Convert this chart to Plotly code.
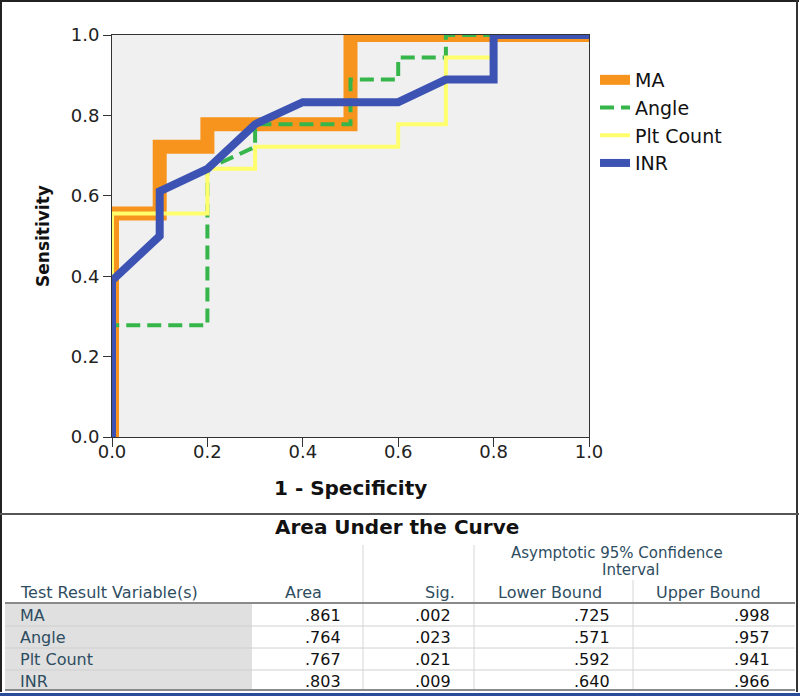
import plotly.graph_objects as go

# ---------------- data ----------------
series_names = ["MA", "Angle", "Plt Count", "INR"]

ma_fpr = [0, 0, 0.1, 0.1, 0.2, 0.2, 0.5, 0.5, 1.0]
ma_tpr = [0, 0.556, 0.556, 0.722, 0.722, 0.778, 0.778, 1.0, 1.0]

angle_fpr = [0, 0, 0.2, 0.2, 0.3, 0.3, 0.5, 0.5, 0.6, 0.6, 0.7, 0.7, 1.0]
angle_tpr = [0, 0.278, 0.278, 0.667, 0.722, 0.778, 0.778, 0.889, 0.889, 0.944, 0.944, 1.0, 1.0]

plt_fpr = [0, 0, 0.2, 0.2, 0.3, 0.3, 0.6, 0.6, 0.7, 0.7, 0.8, 0.8, 1.0]
plt_tpr = [0, 0.556, 0.556, 0.667, 0.667, 0.722, 0.722, 0.778, 0.778, 0.944, 0.944, 1.0, 1.0]

inr_fpr = [0, 0, 0.1, 0.1, 0.2, 0.3, 0.4, 0.6, 0.7, 0.8, 0.8, 1.0]
inr_tpr = [0, 0.389, 0.5, 0.611, 0.667, 0.778, 0.833, 0.833, 0.889, 0.889, 1.0, 1.0]

axis_ticks = [0.0, 0.2, 0.4, 0.6, 0.8, 1.0]

table_title = "Area Under the Curve"
table_rows = ["MA", "Angle", "Plt Count", "INR"]
auc_area = [".861", ".764", ".767", ".803"]
auc_sig = [".002", ".023", ".021", ".009"]
ci_lower = [".725", ".571", ".592", ".640"]
ci_upper = [".998", ".957", ".941", ".966"]

# ---------------- styling ----------------
FONT = "DejaVu Sans"
W, H = 800, 696
L, R_, T, B = 112, 589, 35, 437   # plot area in px


def px(x):
    return (x - L) / (R_ - L)


def py(y):
    return (B - y) / (B - T)


fig = go.Figure()

fig.add_trace(go.Scatter(x=ma_fpr, y=ma_tpr, mode="lines", name=series_names[0],
                         line=dict(color="#F7941D", width=14)))
fig.add_trace(go.Scatter(x=angle_fpr, y=angle_tpr, mode="lines", name=series_names[1],
                         line=dict(color="#36B64A", width=4, dash="14px,7px")))
fig.add_trace(go.Scatter(x=plt_fpr, y=plt_tpr, mode="lines", name=series_names[2],
                         line=dict(color="#FFFF6E", width=4)))
fig.add_trace(go.Scatter(x=inr_fpr, y=inr_tpr, mode="lines", name=series_names[3],
                         line=dict(color="#3D53B4", width=8)))

axis_common = dict(range=[0, 1], tickvals=axis_ticks, tickformat=".1f",
                   ticks="outside", ticklen=8, tickcolor="#333", tickwidth=1,
                   showline=True, linecolor="#333", linewidth=1, mirror=True,
                   showgrid=False, zeroline=False,
                   tickfont=dict(family=FONT, size=18, color="#222"))

fig.update_layout(
    width=W, height=H, autosize=False,
    margin=dict(l=L, r=W - R_, t=T, b=H - B, pad=0),
    paper_bgcolor="white", plot_bgcolor="#F0F0F0",
    xaxis=dict(axis_common, ticklen=9, ticklabelstandoff=-11),
    yaxis=axis_common,
    showlegend=True,
    legend=dict(x=px(595), y=py(61), xanchor="left", yanchor="top",
                font=dict(family=FONT, size=19, color="#111"),
                bgcolor="rgba(0,0,0,0)", borderwidth=0, itemwidth=30,
                tracegroupgap=0),
)

ann = []
# axis titles
ann.append(dict(text="1 - Specificity", x=px(350), y=py(488), xref="paper", yref="paper",
                showarrow=False, xanchor="center", yanchor="middle",
                font=dict(family=FONT, size=20, color="#111", weight="bold")))
ann.append(dict(text="Sensitivity", x=px(43), y=py(236), xref="paper", yref="paper",
                showarrow=False, xanchor="center", yanchor="middle", textangle=-90,
                font=dict(family=FONT, size=17, color="#111", weight="bold")))

# table text
HDR = "#2E4D61"
ann.append(dict(text=table_title, x=px(397), y=py(527), xref="paper", yref="paper",
                showarrow=False, xanchor="center", yanchor="middle",
                font=dict(family=FONT, size=20, color="#111", weight="bold")))
ann.append(dict(text="Asymptotic 95% Confidence", x=px(617), y=py(553), xref="paper", yref="paper",
                showarrow=False, xanchor="center", yanchor="middle",
                font=dict(family=FONT, size=15, color=HDR)))
ann.append(dict(text="Interval", x=px(630), y=py(570), xref="paper", yref="paper",
                showarrow=False, xanchor="center", yanchor="middle",
                font=dict(family=FONT, size=15, color=HDR)))
hdr_items = [("Test Result Variable(s)", 18, "left"), ("Area", 303, "center"),
             ("Sig.", 440, "center"), ("Lower Bound", 550, "center"),
             ("Upper Bound", 708, "center")]
for txt, xx, anc in hdr_items:
    ann.append(dict(text=txt, x=px(xx), y=py(592), xref="paper", yref="paper",
                    showarrow=False, xanchor=anc, yanchor="middle",
                    font=dict(family=FONT, size=16, color=HDR)))

row_y = [615, 637, 659, 681]
cols = [(auc_area, 343), (auc_sig, 453), (ci_lower, 612), (ci_upper, 772)]
for i, name in enumerate(table_rows):
    ann.append(dict(text=name, x=px(18), y=py(row_y[i]), xref="paper", yref="paper",
                    showarrow=False, xanchor="left", yanchor="middle",
                    font=dict(family=FONT, size=16, color=HDR)))
    for vals, xr in cols:
        ann.append(dict(text=vals[i], x=px(xr), y=py(row_y[i]), xref="paper", yref="paper",
                        showarrow=False, xanchor="right", yanchor="middle",
                        font=dict(family=FONT, size=16, color="#111")))

fig.update_layout(annotations=ann)

shapes = []


def hline(y, x0, x1, color, width, layer="above"):
    shapes.append(dict(type="line", xref="paper", yref="paper", x0=px(x0), x1=px(x1),
                       y0=py(y), y1=py(y), line=dict(color=color, width=width), layer=layer))


def vline(x, y0, y1, color, width, layer="above"):
    shapes.append(dict(type="line", xref="paper", yref="paper", x0=px(x), x1=px(x),
                       y0=py(y0), y1=py(y1), line=dict(color=color, width=width), layer=layer))


# first column shading
shapes.append(dict(type="rect", xref="paper", yref="paper", x0=px(5), x1=px(252),
                   y0=py(604), y1=py(690), fillcolor="#E0E0E0", line=dict(width=0), layer="below"))
# outer frame
hline(1, 0, 799, "#222", 2)
vline(1, 0, 692, "#222", 2)
vline(797, 0, 692, "#333", 2)
hline(514, 0, 799, "#555", 2)
# table lines
vline(363, 545, 690, "#D6D6D6", 1)
vline(474, 545, 690, "#D6D6D6", 1)
vline(633, 580, 690, "#D6D6D6", 1)
hline(603, 5, 795, "#8A8A8A", 2)
for yy in [626, 648, 670]:
    hline(yy, 5, 795, "#D0D0D0", 1)
hline(690, 5, 795, "#8A8A8A", 2)
# bottom blue bar
shapes.append(dict(type="rect", xref="paper", yref="paper", x0=px(0), x1=px(800),
                   y0=py(693), y1=py(697), fillcolor="#2A4A9A", line=dict(width=0), layer="above"))

fig.update_layout(shapes=shapes)

fig.write_html("out.html", config={"displayModeBar": False},
               post_script="document.body.style.margin='0px';")
